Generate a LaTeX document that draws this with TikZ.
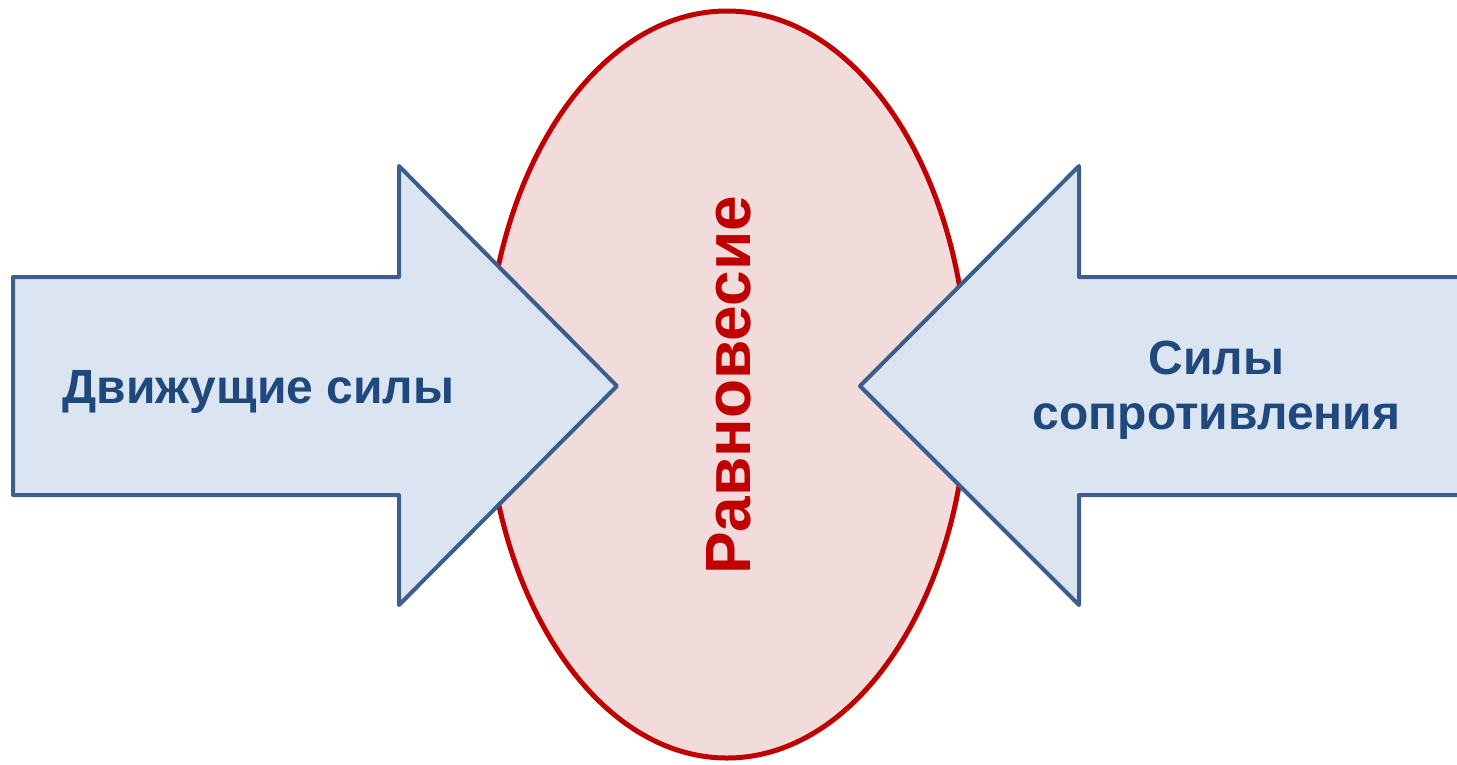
\documentclass[tikz,border=0pt]{standalone}
\usepackage{fontspec}
\setmainfont{Liberation Sans}
\definecolor{arrowfill}{HTML}{DBE5F1}
\definecolor{arrowline}{HTML}{3B5E8C}
\definecolor{ellfill}{HTML}{F2DCDB}
\definecolor{ellline}{HTML}{C00000}
\definecolor{bluetext}{HTML}{1F497D}
\tikzset{
  bigarrow/.style={fill=arrowfill, draw=arrowline, line width=4pt, line join=round},
  eqell/.style={fill=ellfill, draw=ellline, line width=5pt},
  forcetext/.style={text=bluetext, font=\fontsize{48}{55}\selectfont\bfseries, align=center, inner sep=0pt},
  eqtext/.style={text=ellline, font=\fontsize{64}{70}\selectfont\bfseries, inner sep=0pt}
}
\begin{document}
\begin{tikzpicture}[x=1pt,y=-1pt]
\useasboundingbox (0,0) rectangle (1457,764);
% ellipse
\draw[eqell] (727,384.5) ellipse [x radius=241, y radius=373.5];
% left arrow
\draw[bigarrow] (13,277) -- (399,277) -- (399,166) -- (617,386) -- (399,605) -- (399,495) -- (13,495) -- cycle;
% right arrow
\draw[bigarrow] (1470,277) -- (1079,277) -- (1079,166) -- (860,386) -- (1079,605) -- (1079,495) -- (1470,495) -- cycle;
% texts
\node[forcetext, anchor=base] (drive) at (258.5,403) {Движущие силы};
\node[forcetext, anchor=center] (resist) at (1216.5,390) {Силы\\сопротивления};
\node[eqtext, anchor=base, rotate=90] (eq) at (750,385) {Равновесие};
\end{tikzpicture}
\end{document}
